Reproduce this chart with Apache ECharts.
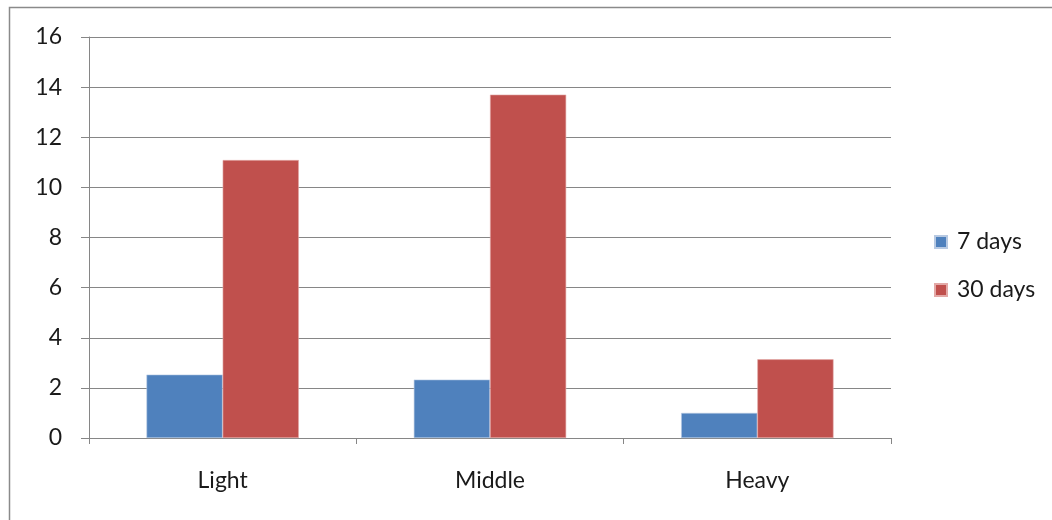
<!DOCTYPE html>
<html>
<head>
<meta charset="utf-8">
<script src="https://cdn.jsdelivr.net/npm/echarts@6/dist/echarts.min.js"></script>
<style>
  html, body { margin: 0; padding: 0; background: #fff; }
  #chart { width: 1052px; height: 520px; }
</style>
</head>
<body>
<div id="chart"></div>
<script>
// Traffic categories and the values for each observation period
const categories = ['Light', 'Middle', 'Heavy'];
const sevenDays = [2.53, 2.33, 1.0];
const thirtyDays = [11.09, 13.7, 3.14];
const yTicks = { min: 0, max: 16, interval: 2 };

const axisGray = '#868686';
const textColor = '#1a1a1a';
const fontFamily = 'Lato, "Open Sans", sans-serif';
const fontSize = 23;

const chart = echarts.init(document.getElementById('chart'), null, { renderer: 'canvas' });

chart.setOption({
  animation: false,
  backgroundColor: '#ffffff',
  graphic: [{
    type: 'rect',
    shape: { x: 9.5, y: 7.5, width: 1200, height: 700 },
    style: { fill: 'none', stroke: '#8a8a8a', lineWidth: 1.5 },
    silent: true,
    z: -1
  }],
  grid: { left: 89, right: 161, top: 37, bottom: 82, containLabel: false },
  legend: {
    orient: 'vertical',
    left: 934,
    top: 230,
    padding: 0,
    itemWidth: 12,
    itemHeight: 12,
    itemGap: 24,
    icon: 'rect',
    textStyle: { fontFamily, fontSize, lineHeight: 24, color: textColor, padding: [0, 0, 0, 5] },
    data: ['7 days', '30 days']
  },
  xAxis: {
    type: 'category',
    data: categories,
    axisLine: { lineStyle: { color: axisGray, width: 1 } },
    axisTick: { show: true, length: 6, lineStyle: { color: axisGray } },
    axisLabel: { fontFamily, fontSize, color: textColor, margin: 31 },
    splitLine: { show: false }
  },
  yAxis: {
    type: 'value',
    min: yTicks.min,
    max: yTicks.max,
    interval: yTicks.interval,
    axisLine: { show: true, lineStyle: { color: axisGray, width: 1 } },
    axisTick: { show: true, length: 8, lineStyle: { color: axisGray } },
    axisLabel: { fontFamily, fontSize, color: textColor, margin: 27 },
    splitLine: { show: true, lineStyle: { color: axisGray, width: 1 } }
  },
  series: [
    {
      name: '7 days',
      type: 'bar',
      data: sevenDays,
      barGap: '0%',
      barCategoryGap: '43%',
      itemStyle: { color: '#4F81BD', borderColor: '#b7c9e2', borderWidth: 0.6 }
    },
    {
      name: '30 days',
      type: 'bar',
      data: thirtyDays,
      barGap: '0%',
      barCategoryGap: '43%',
      itemStyle: { color: '#C0504D', borderColor: '#e3a9a7', borderWidth: 0.6 }
    }
  ]
});
</script>
</body>
</html>
